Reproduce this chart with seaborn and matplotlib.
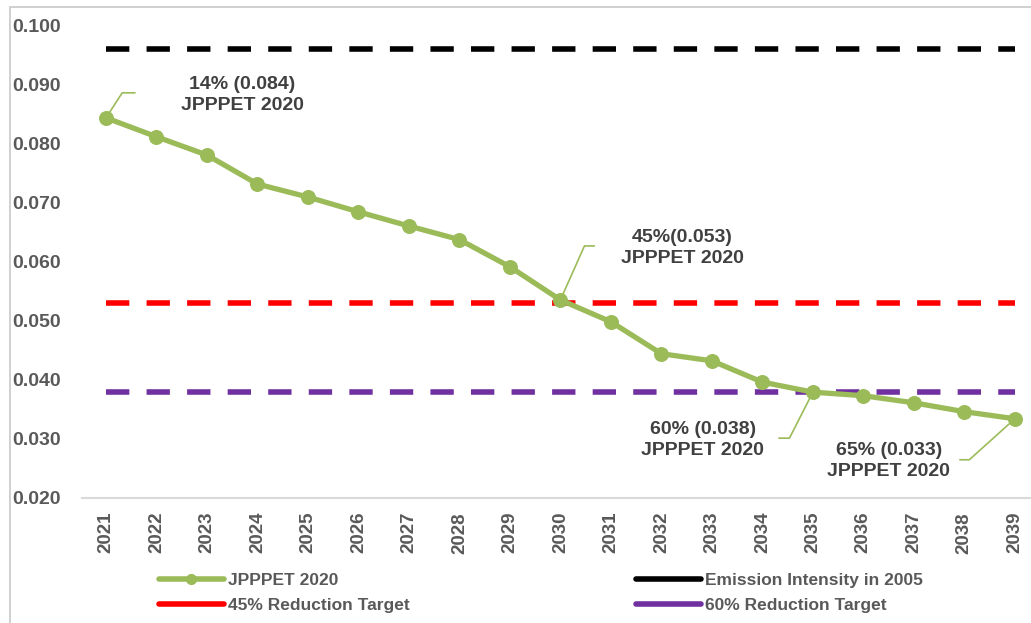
import numpy as np
import pandas as pd
import matplotlib
matplotlib.use("Agg")
import matplotlib.pyplot as plt
from matplotlib.lines import Line2D
from matplotlib.patches import Rectangle
import seaborn as sns

# === Data
years = [str(y) for y in range(2021, 2040)]
jpppet_2020 = [0.0843, 0.0811, 0.0780, 0.0731, 0.0709, 0.0684, 0.0660, 0.0637,
               0.0591, 0.0535, 0.0498, 0.0444, 0.0432, 0.0396, 0.0379, 0.0373,
               0.0361, 0.0346, 0.0334]
intensity_2005 = 0.096
target_45 = 0.053
target_60 = 0.038

y_ticks = [0.020, 0.030, 0.040, 0.050, 0.060, 0.070, 0.080, 0.090, 0.100]

# labels: (index of point, text)
callouts = [
    (0, "14% (0.084)\nJPPPET 2020"),
    (9, "45%(0.053)\nJPPPET 2020"),
    (14, "60% (0.038)\nJPPPET 2020"),
    (18, "65% (0.033)\nJPPPET 2020"),
]

# === Styles
GREEN = "#9BBB59"
GREY_TXT = "#595959"
sns.set_theme(style="white")
plt.rcParams["font.family"] = ["Liberation Sans", "DejaVu Sans"]
plt.rcParams["font.weight"] = "bold"

df = pd.DataFrame({"pos": np.arange(len(years)), "value": jpppet_2020})

fig = plt.figure(figsize=(10.31, 6.23), dpi=100)
ax = fig.add_axes([82 / 1031, 1 - 498 / 623, 1 - 82 / 1031, 473 / 623])

# outer border like the excel chart area
fig.patches.append(Rectangle((10 / 1031, -0.1), 1.2, 0.1 + 616 / 623,
                             transform=fig.transFigure, fill=False,
                             edgecolor="#c8c8c8", linewidth=1.2))

dash = (4.2, 3.1)
for val, col in [(intensity_2005, "black"), (target_45, "#FF0000"), (target_60, "#7030A0")]:
    ax.plot(df["pos"], [val] * len(df), color=col, lw=4, dashes=dash,
            solid_capstyle="butt", dash_capstyle="butt", zorder=2)

sns.lineplot(data=df, x="pos", y="value", ax=ax, color=GREEN, lw=3.8,
             marker="o", markersize=10, markeredgecolor=GREEN, zorder=3)

# axes
ax.set_xlim(-0.475, 18.32)
ax.set_ylim(0.020, 0.100)
ax.set_yticks(y_ticks)
ax.set_yticklabels([f"{t:.3f}" for t in y_ticks])
ax.set_xticks(df["pos"])
ax.set_xticklabels(years, rotation=90)
ax.tick_params(axis="y", labelsize=14, labelcolor=GREY_TXT, pad=15, length=0)
ax.tick_params(axis="x", labelsize=13.5, labelcolor=GREY_TXT, pad=10, length=0)
for lab in ax.get_xticklabels() + ax.get_yticklabels():
    lab.set_fontweight("bold")
ax.set_xlabel("")
ax.set_ylabel("")
for s in ["left", "right", "top"]:
    ax.spines[s].set_visible(False)
ax.spines["bottom"].set_color("#d9d9d9")
ax.spines["bottom"].set_linewidth(1.5)
ax.grid(False)

# callouts with leader lines (offsets in pixels)
text_off = {0: (136, 23), 9: (122, 52), 14: (-110, -48), 18: (-126, -42)}
lead_end = {0: (29, 25), 9: (34, 54), 14: (-34, -46), 18: (-55, -41)}
lead_ang = {0: 57, 9: 66, 14: 63, 18: 42}
for idx, txt in callouts:
    xy = (df["pos"][idx], jpppet_2020[idx])
    ax.annotate("", xy=xy, xytext=lead_end[idx], textcoords="offset pixels",
                arrowprops=dict(arrowstyle="-", color=GREEN, lw=1.2,
                                shrinkA=0, shrinkB=0,
                                connectionstyle=f"angle,angleA=0,angleB={lead_ang[idx]},rad=0"))
    ax.annotate(txt, xy=xy, xytext=text_off[idx], textcoords="offset pixels",
                ha="center", va="center", fontsize=14, fontweight="bold",
                color="#404040", linespacing=1.3)

# legend
handles = [
    Line2D([], [], color=GREEN, lw=4, marker="o", markersize=7),
    Line2D([], [], color="#FF0000", lw=4),
    Line2D([], [], color="black", lw=4),
    Line2D([], [], color="#7030A0", lw=4),
]
labels = ["JPPPET 2020", "45% Reduction Target",
          "Emission Intensity in 2005", "60% Reduction Target"]
leg = fig.legend(handles, labels, ncol=2, loc="upper left",
                 bbox_to_anchor=(143 / 1031, 1 - 557 / 623), frameon=False,
                 handlelength=3.75, handletextpad=0.25, columnspacing=13.0,
                 labelspacing=0.6,
                 prop={"family": ["Liberation Sans"],
                       "weight": "bold", "size": 12.5})
for t in leg.get_texts():
    t.set_color(GREY_TXT)

fig.savefig("out.png", dpi=100)
plt.close(fig)
